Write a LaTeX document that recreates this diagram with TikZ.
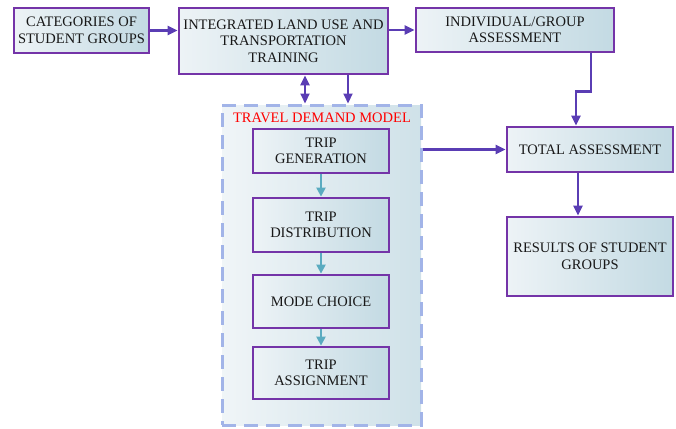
\documentclass[tikz,border=0pt]{standalone}
\usepackage{fontspec}
\setmainfont{Liberation Serif}
\usetikzlibrary{arrows.meta,calc}
\definecolor{boxline}{HTML}{7434A8}
\definecolor{arrcol}{HTML}{5A3DB4}
\definecolor{tealarr}{HTML}{5AABC0}
\definecolor{dashcol}{HTML}{A2B4E8}
\definecolor{fillL}{HTML}{EDF3F6}
\definecolor{fillR}{HTML}{C3DAE3}
\definecolor{txt}{HTML}{181818}
\begin{document}
\begin{tikzpicture}[x=1pt,y=-1pt,
  box/.style={draw=boxline,line width=2.8pt,left color=fillL,right color=fillR,
    inner sep=0pt,align=center,text=txt,font=\fontsize{14.5}{16.5}\selectfont},
  arr/.style={draw=arrcol,line width=2.2pt,-{Triangle[length=10pt,width=9pt]}},
  darr/.style={draw=arrcol,line width=2.2pt,{Triangle[length=10pt,width=9pt]}-{Triangle[length=10pt,width=9pt]}},
  tarr/.style={draw=tealarr,line width=2.2pt,-{Triangle[length=9pt,width=9pt]}},
  cont/.style={draw=dashcol,line width=3pt,dash pattern=on 14pt off 8pt,
    left color=fillL!85!white,right color=fillR!80!white,inner sep=0pt}]
\useasboundingbox (0,0) rectangle (676,428);
% container
\node[cont,minimum width=199pt,minimum height=320pt] (cont) at (321.5,265) {};
\node[text=red,font=\fontsize{14.5}{16.5}\selectfont,inner sep=0pt] (title) at (322,118) {TRAVEL DEMAND MODEL};
% top row
\node[box,minimum width=135pt,minimum height=45pt] (cat) at (81.5,30.5) {CATEGORIES OF\\STUDENT GROUPS};
\node[box,minimum width=209pt,minimum height=66pt] (ilu) at (283.5,41) {INTEGRATED LAND USE AND\\TRANSPORTATION\\TRAINING};
\node[box,minimum width=198pt,minimum height=44pt] (ind) at (515,30) {INDIVIDUAL/GROUP\\ASSESSMENT};
\node[box,minimum width=166pt,minimum height=45pt] (tot) at (590,149.5) {TOTAL ASSESSMENT};
\node[box,minimum width=166pt,minimum height=79pt] (res) at (590,256.5) {RESULTS OF STUDENT\\GROUPS};
% inner boxes
\node[box,minimum width=136pt,minimum height=44pt] (tg) at (321,151) {TRIP\\GENERATION};
\node[box,minimum width=136pt,minimum height=54pt] (td) at (321,225) {TRIP\\DISTRIBUTION};
\node[box,minimum width=136pt,minimum height=53pt] (mc) at (321,301.5) {MODE CHOICE};
\node[box,minimum width=136pt,minimum height=52pt] (ta) at (321,373) {TRIP\\ASSIGNMENT};
% arrows
\draw[arr] (cat.east) -- (cat.east -| ilu.west);
\draw[arr] (ind.west -| ilu.east) -- (ind.west);
\draw[arr] ([xshift=76pt]ind.south) -- ++(0,38) -| ([xshift=-14pt]tot.north);
\draw[arr] ([xshift=-12pt]tot.south) -- ([xshift=-12pt]res.north);
\draw[arr] (cont.east |- tot.west) -- (tot.west);
\draw[darr] ([xshift=21.5pt]ilu.south) -- ([xshift=21.5pt]ilu.south |- cont.north);
\draw[arr] ([xshift=64.5pt]ilu.south) -- ([xshift=64.5pt]ilu.south |- cont.north);
\draw[tarr] (tg.south) -- (td.north);
\draw[tarr] (td.south) -- (mc.north);
\draw[tarr] (mc.south) -- (ta.north);
\end{tikzpicture}
\end{document}
